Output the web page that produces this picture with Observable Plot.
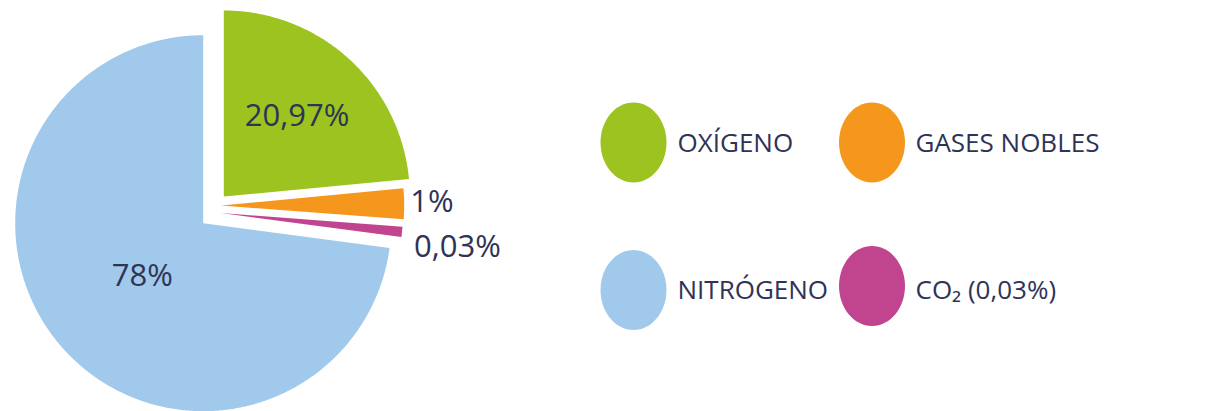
<!DOCTYPE html>
<html><head><meta charset="utf-8">
<script src="https://cdn.jsdelivr.net/npm/d3@7"></script>
<script src="https://cdn.jsdelivr.net/npm/@observablehq/plot@0.6"></script>
<style>
html,body{margin:0;padding:0;background:#fff}
#chart svg{display:block}
</style>
</head><body><div id="chart"></div>
<script>
// ---- data ----
const gases = ["OXÍGENO", "GASES NOBLES", "CO₂ (0,03%)", "NITRÓGENO"];
const sliceLabels = ["20,97%", "1%", "0,03%", "78%"];
// angular share of each slice as drawn in the picture (small slices are enlarged there)
const drawnShare = [23.5, 2.7, 0.9, 72.9];
const colors = ["#9cc31f", "#f6971d", "#c1448e", "#a0c9ec"];
const legendOrder = ["OXÍGENO", "GASES NOBLES", "NITRÓGENO", "CO₂ (0,03%)"];

// ---- layout (styling) ----
const W = 1226, H = 411;
const center = [212, 210];
const explode = [[11.3, -14], [8.7, -5], [8.5, 2.5], [-9.3, 12.7]];
const radius = [186, 183, 182, 188];
const labelPlace = [
  {f: 0.585, anchor: "middle", dx: 0, dy: 0},
  {out: 6, anchor: "start", dx: 0, dy: -2},
  {out: 10, anchor: "start", dx: 2, dy: 14},
  {f: 0.43, anchor: "middle", dx: 0, dy: 0}
];
const textColor = "#2f3356";

const arcs = d3.pie().sort(null).value(d => d)(drawnShare);
const slicePts = [];
const labelPts = [];
arcs.forEach((a, i) => {
  const cx = center[0] + explode[i][0], cy = center[1] + explode[i][1];
  const r = radius[i];
  const name = gases[i];
  slicePts.push({name, x: cx, y: cy});
  const n = Math.max(4, Math.ceil((a.endAngle - a.startAngle) / (Math.PI / 360)));
  for (let k = 0; k <= n; k++) {
    const t = a.startAngle + (a.endAngle - a.startAngle) * k / n;
    slicePts.push({name, x: cx + r * Math.sin(t), y: cy - r * Math.cos(t)});
  }
  const mid = (a.startAngle + a.endAngle) / 2;
  const p = labelPlace[i];
  const d = p.f != null ? p.f * r : r + p.out;
  labelPts.push({
    text: sliceLabels[i], anchor: p.anchor,
    x: cx + d * Math.sin(mid) + p.dx, y: cy - d * Math.cos(mid) + p.dy
  });
});

const legendX = [633, 871.5];
const legendY = [[142, 142], [289.5, 285.5]];
const legendTextX = [677, 915];
const legendTextY = [143, 290];
const legendPts = legendOrder.map((name, i) => {
  const col = i % 2, row = Math.floor(i / 2);
  return {name, x: legendX[col], y: legendY[row][col], tx: legendTextX[col], ty: legendTextY[row]};
});

const ellipseSymbol = {
  draw(ctx, size) {
    const r = Math.sqrt(size / Math.PI), rx = r * 0.825, ry = r, k = 0.5523;
    ctx.moveTo(rx, 0);
    ctx.bezierCurveTo(rx, k * ry, k * rx, ry, 0, ry);
    ctx.bezierCurveTo(-k * rx, ry, -rx, k * ry, -rx, 0);
    ctx.bezierCurveTo(-rx, -k * ry, -k * rx, -ry, 0, -ry);
    ctx.bezierCurveTo(k * rx, -ry, rx, -k * ry, rx, 0);
    ctx.closePath();
  }
};

const font = "'Open Sans', 'Noto Sans', sans-serif";

const chart = Plot.plot({
  width: W, height: H, margin: 0,
  style: {background: "#fff"},
  x: {domain: [0, W], range: [0, W], axis: null},
  y: {domain: [0, H], range: [0, H], axis: null},
  color: {domain: gases, range: colors},
  marks: [
    Plot.line(slicePts, {x: "x", y: "y", z: "name", fill: "name", stroke: "none", curve: "linear-closed"}),
    Plot.text(labelPts.filter(d => d.anchor === "middle"), {x: "x", y: "y", text: "text", textAnchor: "middle", fontSize: 31, fontFamily: font, fill: textColor}),
    Plot.text(labelPts.filter(d => d.anchor === "start"), {x: "x", y: "y", text: "text", textAnchor: "start", fontSize: 31, fontFamily: font, fill: textColor}),
    Plot.dot(legendPts, {x: "x", y: "y", r: 40, fill: "name", stroke: "none", symbol: ellipseSymbol}),
    Plot.text(legendPts, {x: "tx", y: "ty", text: "name", textAnchor: "start", fontSize: 26, fontFamily: font, fill: textColor})
  ]
});
document.getElementById("chart").appendChild(chart);
</script>
</body></html>
